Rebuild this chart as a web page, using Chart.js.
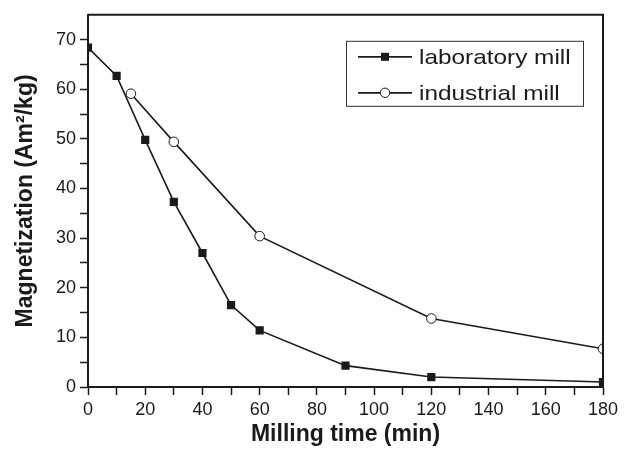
<!DOCTYPE html>
<html>
<head>
<meta charset="utf-8">
<script src="https://cdn.jsdelivr.net/npm/chart.js@4.4.0/dist/chart.umd.min.js"></script>
<style>
  html, body { margin: 0; padding: 0; background: #fff; }
  #wrap { width: 624px; height: 454px; }
</style>
</head>
<body>
<div id="wrap"><canvas id="c"></canvas></div>
<script>
// data
const labTime = [0, 10, 20, 30, 40, 50, 60, 90, 120, 180];
const labMag  = [68.4, 62.7, 49.8, 37.3, 27.0, 16.5, 11.4, 4.3, 2.0, 1.0];
const indTime = [15, 30, 60, 120, 180];
const indMag  = [59.1, 49.4, 30.4, 13.8, 7.7];
const seriesNames = ['laboratory mill', 'industrial mill'];
const xTicks = [0, 20, 40, 60, 80, 100, 120, 140, 160, 180];
const yTicks = [0, 10, 20, 30, 40, 50, 60, 70];

const ink = '#1a1a1a';

const toPts = (xs, ys) => xs.map((x, i) => ({ x: x, y: ys[i] }));

// frame on top and right + legend box
const framePlugin = {
    id: 'frame',
    afterDraw(chart) {
        const { ctx, chartArea: a } = chart;
        ctx.save();
        ctx.strokeStyle = ink;
        ctx.lineWidth = 2;
        ctx.beginPath();
        ctx.moveTo(a.left, a.top);
        ctx.lineTo(a.right, a.top);
        ctx.lineTo(a.right, a.bottom);
        ctx.stroke();

        // legend
        const bx = a.right - 257, by = a.top + 26, bw = 237, bh = 65;
        ctx.lineWidth = 1;
        ctx.strokeStyle = '#333';
        ctx.strokeRect(bx + 0.5, by + 0.5, bw, bh);
        const rows = [by + 16, by + 52];
        chart.data.datasets.forEach((ds, i) => {
            const y = rows[i];
            ctx.strokeStyle = ink;
            ctx.lineWidth = 1.8;
            ctx.beginPath();
            ctx.moveTo(bx + 12, y);
            ctx.lineTo(bx + 66, y);
            ctx.stroke();
            const mx = bx + 39;
            if (ds.pointStyle === 'rect') {
                ctx.fillStyle = ink;
                ctx.fillRect(mx - 4, y - 4, 8, 8);
            } else {
                ctx.fillStyle = '#fff';
                ctx.lineWidth = 1;
                ctx.beginPath();
                ctx.arc(mx, y, 4.7, 0, Math.PI * 2);
                ctx.fill();
                ctx.stroke();
            }
            ctx.save();
            ctx.translate(bx + 73, y);
            ctx.scale(1.16, 1);
            ctx.fillStyle = ink;
            ctx.font = '21px "Liberation Sans", Arial, sans-serif';
            ctx.textBaseline = 'middle';
            ctx.fillText(ds.label, 0, 1);
            ctx.restore();
        });
        ctx.restore();
    }
};

new Chart(document.getElementById('c'), {
    type: 'line',
    data: {
        datasets: [
            {
                label: seriesNames[0],
                data: toPts(labTime, labMag),
                borderColor: ink,
                backgroundColor: ink,
                borderWidth: 1.6,
                pointStyle: 'rect',
                pointRadius: 5.8,
                pointBorderWidth: 0,
                tension: 0
            },
            {
                label: seriesNames[1],
                data: toPts(indTime, indMag),
                borderColor: ink,
                backgroundColor: '#fff',
                borderWidth: 1.6,
                pointStyle: 'circle',
                pointRadius: 4.8,
                pointBorderWidth: 1,
                tension: 0
            }
        ]
    },
    options: {
        responsive: true,
        maintainAspectRatio: false,
        animation: false,
        layout: { padding: { top: 13, right: 21, left: 0, bottom: 0 } },
        plugins: {
            legend: { display: false },
            tooltip: { enabled: false }
        },
        scales: {
            x: {
                type: 'linear',
                min: 0,
                max: 180,
                ticks: {
                    stepSize: 10,
                    autoSkip: false,
                    maxRotation: 0,
                    padding: 4,
                    color: ink,
                    font: { family: '"Liberation Sans", Arial, sans-serif', size: 18 },
                    callback: v => xTicks.includes(v) ? String(v) : ''
                },
                grid: {
                    drawOnChartArea: false,
                    drawTicks: true,
                    tickLength: 8,
                    tickColor: ink,
                    tickWidth: 1.5
                },
                border: { color: ink, width: 2 },
                title: {
                    display: true,
                    text: 'Milling time (min)',
                    color: ink,
                    font: { family: '"Liberation Sans", Arial, sans-serif', size: 23, weight: 'bold' },
                    padding: { top: 0, bottom: 6 }
                },
                afterFit(scale) { scale.height = 67; }
            },
            y: {
                min: 0,
                max: 75,
                ticks: {
                    stepSize: 5,
                    autoSkip: false,
                    padding: 4,
                    color: ink,
                    font: { family: '"Liberation Sans", Arial, sans-serif', size: 18 },
                    callback: v => yTicks.includes(v) ? String(v) : ''
                },
                afterBuildTicks(scale) {
                    scale.ticks = scale.ticks.filter(t => t.value < 75);
                },
                grid: {
                    drawOnChartArea: false,
                    drawTicks: true,
                    tickLength: 8,
                    tickColor: ink,
                    tickWidth: 1.5
                },
                border: { color: ink, width: 2 },
                title: {
                    display: true,
                    text: 'Magnetization (Am²/kg)',
                    color: ink,
                    font: { family: '"Liberation Sans", Arial, sans-serif', size: 23, weight: 'bold' },
                    padding: { top: 12, bottom: 0 }
                },
                afterFit(scale) { scale.width = 88; }
            }
        }
    },
    plugins: [framePlugin]
});
</script>
</body>
</html>
